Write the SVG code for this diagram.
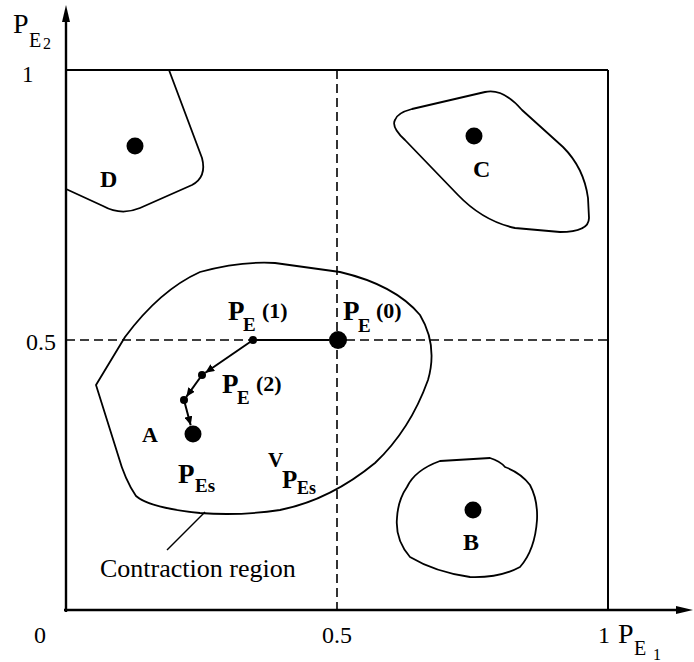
<svg xmlns="http://www.w3.org/2000/svg" width="694" height="662" viewBox="0 0 694 662">
<style>
  text { font-family: "Liberation Serif", Tinos, "Times New Roman", Times, "Noto Serif", "DejaVu Serif", FreeSerif, serif; fill: #000; }
  .b { font-weight: bold; }
  .ax { stroke: #000; stroke-width: 2.4; fill: none; }
  .bx { stroke: #000; stroke-width: 2; fill: none; }
  .dash { stroke: #000; stroke-width: 1.6; stroke-dasharray: 9 5; fill: none; }
  .blob { stroke: #000; stroke-width: 1.8; fill: none; stroke-linejoin: round; }
  .dot { fill: #000; }
  .path { stroke: #000; stroke-width: 2; fill: none; }
</style>
<defs>
  <marker id="ah" markerUnits="userSpaceOnUse" markerWidth="10" markerHeight="8" refX="9" refY="4" orient="auto">
    <path d="M0,0 L9,4 L0,8 z" fill="#000"/>
  </marker>
</defs>

<g id="axes">
  <line class="ax" x1="66" y1="612" x2="66" y2="16"/>
  <path d="M66,5 L62,22 L70,22 z" fill="#000"/>
  <line class="ax" x1="64" y1="610" x2="682" y2="610"/>
  <path d="M693,610 L676,606 L676,614 z" fill="#000"/>
  <line class="bx" x1="66" y1="70" x2="608" y2="70"/>
  <line class="bx" x1="608" y1="70" x2="608" y2="610"/>
  <line class="dash" x1="337" y1="70" x2="337" y2="610"/>
  <line class="dash" x1="66" y1="340" x2="608" y2="340"/>
</g>

<g id="axis-labels">
  <text x="13" y="33" font-size="28">P</text>
  <text x="29" y="47" font-size="20">E</text>
  <text x="43" y="49" font-size="16">2</text>
  <text x="22" y="82" font-size="23">1</text>
  <text x="56" y="350" font-size="24" text-anchor="end">0.5</text>
  <text x="40" y="643" font-size="24" text-anchor="middle">0</text>
  <text x="337" y="643" font-size="24" text-anchor="middle">0.5</text>
  <text x="604" y="643" font-size="24" text-anchor="middle">1</text>
  <text x="618" y="643" font-size="28">P</text>
  <text x="634" y="655" font-size="20">E</text>
  <text x="653" y="660" font-size="16">1</text>
</g>

<g id="region-D">
  <path class="blob" d="M169,70 L202,158 Q207,177 192,185 L140,208 Q121,216 103,206 L66,189"/>
  <circle class="dot" cx="135" cy="146" r="8.5"/>
  <text class="b" x="100" y="187" font-size="24">D</text>
</g>

<g id="region-C">
  <path class="blob" d="M395,120 Q397,113 412,109 L485,92 Q503,88 522,110 L563,147 Q584,168 588,198 L589,218 Q589,232 560,232 L515,228 Q483,221 458,195 L405,140 Q391,127 395,120 Z"/>
  <circle class="dot" cx="474" cy="136" r="8.5"/>
  <text class="b" x="473" y="177" font-size="24">C</text>
</g>

<g id="region-A">
  <path class="blob" d="M96,385 L125,337 Q160,290 200,272 Q240,261 275,263 L340,272 Q395,285 420,315 Q438,345 428,380 Q410,430 375,463 Q330,500 280,510 Q240,516 200,513 Q150,508 136,496 Q125,480 118,455 Z"/>
  <circle class="dot" cx="193" cy="434" r="8.5"/>
  <text class="b" x="142" y="442" font-size="22">A</text>
  <text class="b" x="178" y="483" font-size="27">P</text>
  <text class="b" x="195" y="492" font-size="19">Es</text>
  <text class="b" x="268" y="467" font-size="21">V</text>
  <text class="b" x="282" y="488" font-size="25">P</text>
  <text class="b" x="297" y="494" font-size="18">Es</text>
  <line x1="167" y1="550" x2="205" y2="512" stroke="#000" stroke-width="1.5"/>
  <text x="100" y="577" font-size="26">Contraction region</text>
</g>

<g id="region-B">
  <path class="blob" d="M407,487 Q415,470 440,461 L490,458 Q500,461 505,467 Q521,473 530,485 Q538,500 537,520 Q535,550 520,567 Q500,578 470,577 Q435,572 410,557 Q395,540 397,518 Q398,500 407,487 Z"/>
  <circle class="dot" cx="473" cy="510" r="8.5"/>
  <text class="b" x="463" y="550" font-size="24">B</text>
</g>

<g id="PE0">
  <circle class="dot" cx="338" cy="340" r="9"/>
  <text class="b" x="343" y="320" font-size="27">P</text>
  <text class="b" x="358" y="332" font-size="19">E</text>
  <text class="b" x="376" y="318" font-size="22">(0)</text>
</g>
<g id="PE1">
  <circle class="dot" cx="253" cy="340" r="4"/>
  <text class="b" x="228" y="320" font-size="27">P</text>
  <text class="b" x="243" y="331" font-size="19">E</text>
  <text class="b" x="262" y="318" font-size="22">(1)</text>
</g>
<g id="PE2">
  <circle class="dot" cx="202" cy="375" r="4"/>
  <text class="b" x="222" y="393" font-size="27">P</text>
  <text class="b" x="237" y="404" font-size="19">E</text>
  <text class="b" x="256" y="391" font-size="22">(2)</text>
</g>
<g id="PE3">
  <circle class="dot" cx="184" cy="400" r="4"/>
</g>

<g id="connectors">
  <line class="path" x1="329" y1="340" x2="257" y2="340" stroke-width="2.5"/>
  <line class="path" x1="253" y1="340" x2="205.3" y2="372.7" marker-end="url(#ah)"/>
  <line class="path" x1="202" y1="375" x2="186.3" y2="396.8" marker-end="url(#ah)"/>
  <line class="path" x1="184" y1="400" x2="190.7" y2="425.3" marker-end="url(#ah)"/>
</g>
</svg>
